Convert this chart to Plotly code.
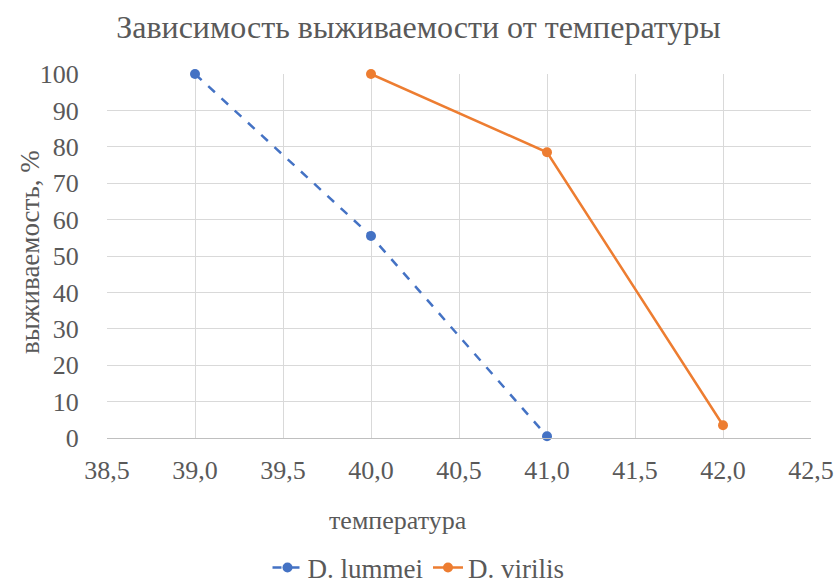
import plotly.graph_objects as go

temps_lummei = [39.0, 40.0, 41.0]
surv_lummei = [100, 55.5, 0.5]
temps_virilis = [40.0, 41.0, 42.0]
surv_virilis = [100, 78.5, 3.5]
x_ticks = [38.5, 39.0, 39.5, 40.0, 40.5, 41.0, 41.5, 42.0, 42.5]
x_tick_labels = [f"{v:.1f}".replace(".", ",") for v in x_ticks]
y_ticks = list(range(0, 101, 10))

FONT = "'Liberation Serif', 'Times New Roman', 'DejaVu Serif', serif"
GREY = "#595959"

W, H = 837, 586

fig = go.Figure()
fig.add_trace(go.Scatter(
    x=temps_lummei, y=surv_lummei, name="D. lummei", mode="lines+markers",
    line=dict(color="#4472C4", width=2.5, dash="dash"),
    marker=dict(color="#4472C4", size=10, symbol="circle"),
    cliponaxis=False,
))
fig.add_trace(go.Scatter(
    x=temps_virilis, y=surv_virilis, name="D. virilis", mode="lines+markers",
    line=dict(color="#ED7D31", width=2.5),
    marker=dict(color="#ED7D31", size=10, symbol="circle"),
    cliponaxis=False,
))

fig.update_layout(
    width=W, height=H,
    paper_bgcolor="white", plot_bgcolor="white",
    margin=dict(l=107, r=26, t=74, b=148),
    font=dict(family=FONT, color=GREY, size=26),
    title=dict(text="Зависимость выживаемости от температуры", x=0.5, xref="container",
               xanchor="center", yref="container", y=1 - 27/H, yanchor="middle",
               font=dict(family=FONT, size=32, color=GREY)),
    showlegend=True,
    legend=dict(orientation="h", xref="container", x=0.5, xanchor="center",
                yref="container", y=18/H, yanchor="middle",
                font=dict(family=FONT, size=27, color=GREY)),
    xaxis=dict(range=[38.5, 42.5], tickvals=x_ticks, ticktext=x_tick_labels,
               showgrid=True, gridcolor="#D9D9D9", gridwidth=1,
               zeroline=False, showline=True, linecolor="#BFBFBF", linewidth=1,
               ticks="outside", ticklen=9, tickcolor="rgba(0,0,0,0)",
               automargin=False,
               tickfont=dict(family=FONT, size=26, color=GREY)),
    yaxis=dict(range=[0, 100], tickvals=y_ticks,
               showgrid=True, gridcolor="#D9D9D9", gridwidth=1,
               zeroline=False, showline=False,
               ticks="outside", ticklen=22, tickcolor="rgba(0,0,0,0)",
               automargin=False,
               tickfont=dict(family=FONT, size=26, color=GREY)),
    annotations=[
        dict(text="температура", xref="paper", yref="paper",
             x=(398-107)/704, y=(438-520)/364, xanchor="center", yanchor="middle",
             showarrow=False, font=dict(family=FONT, size=26, color=GREY)),
        dict(text="выживаемость, %", xref="paper", yref="paper", textangle=-90,
             x=(30-107)/704, y=(438-252)/364, xanchor="center", yanchor="middle",
             showarrow=False, font=dict(family=FONT, size=27, color=GREY)),
    ],
)

fig.write_html(
    "out.html",
    config={"displayModeBar": False},
    post_script="document.body.style.margin='0';document.body.style.overflow='hidden';",
)
